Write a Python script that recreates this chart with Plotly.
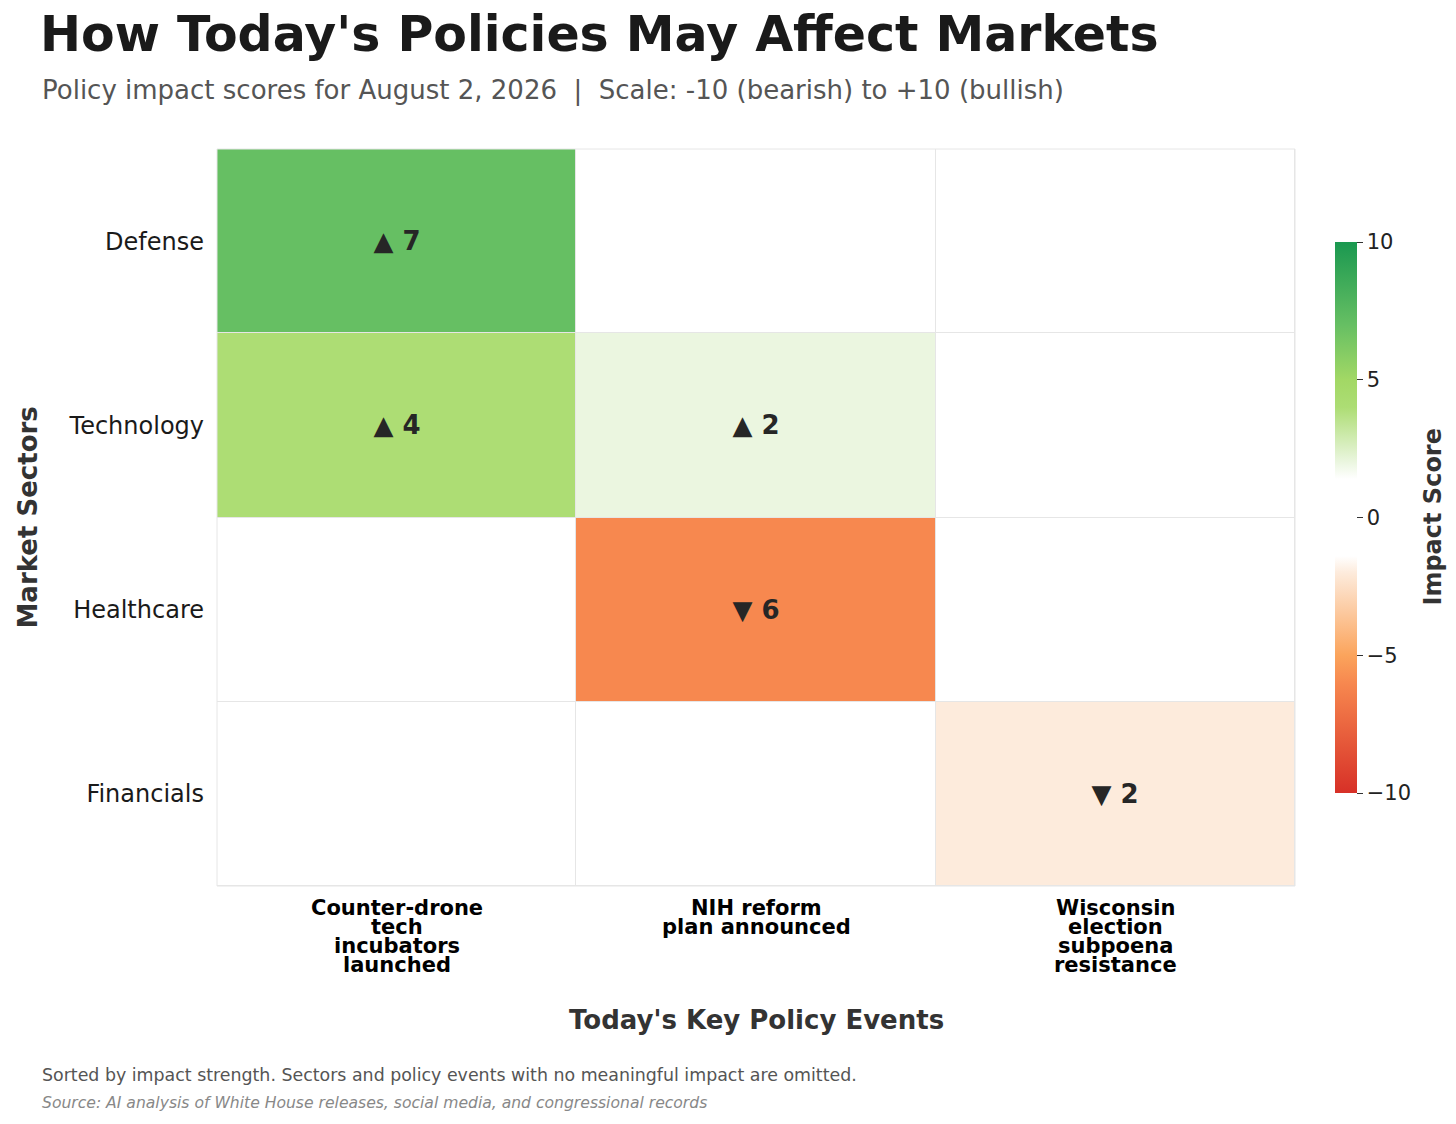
import plotly.graph_objects as go

# chart data
sectors = ["Defense", "Technology", "Healthcare", "Financials"]
events = [
    "Counter-drone\ntech\nincubators\nlaunched",
    "NIH reform\nplan announced",
    "Wisconsin\nelection\nsubpoena\nresistance",
]
scores = [
    [7, 0, 0],
    [4, 2, 0],
    [0, -6, 0],
    [0, 0, -2],
]
cbar_ticks = [-10, -5, 0, 5, 10]

FONT = "DejaVu Sans"

# custom diverging scale, white band around zero
colorscale = [
    [0.00, "#d73027"],
    [0.20, "#f7884f"],
    [0.25, "#fba45c"],
    [0.40, "#fdebdc"],
    [0.43, "#ffffff"],
    [0.57, "#ffffff"],
    [0.60, "#ebf6e0"],
    [0.70, "#addd74"],
    [0.75, "#a2d865"],
    [0.85, "#66bf63"],
    [1.00, "#1a9850"],
]


def label(v):
    if v > 0:
        return f"▲ {v}"
    if v < 0:
        return f"▼ {abs(v)}"
    return ""


text = [[label(v) for v in row] for row in scores]
cols = list(range(len(events)))

# page has an 8px body margin, so the figure is sized/offset for that
OFF = 8
W, H = 1456 - OFF, 1124 - OFF
L, R, T, B = 217 - OFF, 161, 149 - OFF, 238
pw, ph = W - L - R, H - T - B


def px_x(x):
    return (x - OFF - L) / pw


def px_y(y):
    return (H - B - (y - OFF)) / ph


fig = go.Figure()
fig.add_trace(go.Heatmap(
    z=scores, x=cols, y=sectors, text=text,
    texttemplate="%{text}",
    textfont=dict(family=FONT, size=26, color="#262626", weight="bold"),
    colorscale=colorscale, zmin=-10, zmax=10,
    xgap=1, ygap=1, hoverinfo="skip",
    colorbar=dict(
        x=px_x(1335), xanchor="left", xpad=0, ypad=0, y=0.5, yanchor="middle",
        len=551 / ph, thickness=22, outlinewidth=0,
        ticks="outside", ticklen=6, tickcolor="#333", tickwidth=1,
        tickvals=cbar_ticks,
        tickfont=dict(family=FONT, size=21, color="#222"),
    ),
))

# colorbar title
fig.add_annotation(x=px_x(1432), y=0.5, xref="paper", yref="paper",
                   xanchor="center", yanchor="middle",
                   textangle=-90, text="Impact Score", showarrow=False,
                   font=dict(family=FONT, size=24, color="#333", weight="bold"))

# x labels as annotations so the lines sit tight together
for i, ev in enumerate(events):
    for j, line in enumerate(ev.split("\n")):
        fig.add_annotation(
            x=i, y=0, xref="x", yref="paper", yanchor="middle",
            yshift=-22 - j * 19, text=line, showarrow=False,
            font=dict(family=FONT, size=21, color="#000", weight="bold"),
        )

fig.add_annotation(x=0.5, y=0, xref="paper", yref="paper", yanchor="middle",
                   yshift=-134, text="Today's Key Policy Events", showarrow=False,
                   font=dict(family=FONT, size=26, color="#333", weight="bold"))
fig.add_annotation(x=px_x(27), y=0.5, xref="paper", yref="paper", xanchor="center",
                   textangle=-90, text="Market Sectors", showarrow=False,
                   font=dict(family=FONT, size=26, color="#333", weight="bold"))

# subtitle, footers
texts = [
    ("Policy impact scores for August 2, 2026  |  Scale: -10 (bearish) to +10 (bullish)", 91, 26, "#555", "normal", "normal"),
    ("Sorted by impact strength. Sectors and policy events with no meaningful impact are omitted.", 1075, 17.4, "#555", "normal", "normal"),
    ("Source: AI analysis of White House releases, social media, and congressional records", 1103, 15.6, "#888", "normal", "italic"),
]
for s, yc, size, color, weight, style in texts:
    fig.add_annotation(
        x=px_x(40), y=px_y(yc), xref="paper", yref="paper",
        xanchor="left", yanchor="middle", text=s, showarrow=False,
        font=dict(family=FONT, size=size, color=color, weight=weight, style=style),
    )

fig.update_layout(
    width=W, height=H,
    margin=dict(l=L, r=R, t=T, b=B),
    title=dict(text="How Today's Policies May Affect Markets",
               xref="container", yref="container",
               x=(40 - OFF) / W, xanchor="left",
               y=(H - (34 - OFF)) / H, yanchor="middle",
               font=dict(family=FONT, size=49, color="#1a1a1a", weight="bold")),
    paper_bgcolor="white", plot_bgcolor="#e6e6e6",
    font=dict(family=FONT),
    xaxis=dict(showticklabels=False, showgrid=False, zeroline=False,
               range=[-0.5, len(events) - 0.5]),
    yaxis=dict(autorange="reversed", showgrid=False, zeroline=False, ticks="",
               tickfont=dict(family=FONT, size=24, color="#1a1a1a"),
               ticklabelstandoff=12),
    shapes=[dict(type="rect", xref="paper", yref="paper", x0=0, x1=1, y0=0, y1=1,
                 line=dict(color="#e6e6e6", width=1), layer="above")],
)

fig.write_html("out.html")
